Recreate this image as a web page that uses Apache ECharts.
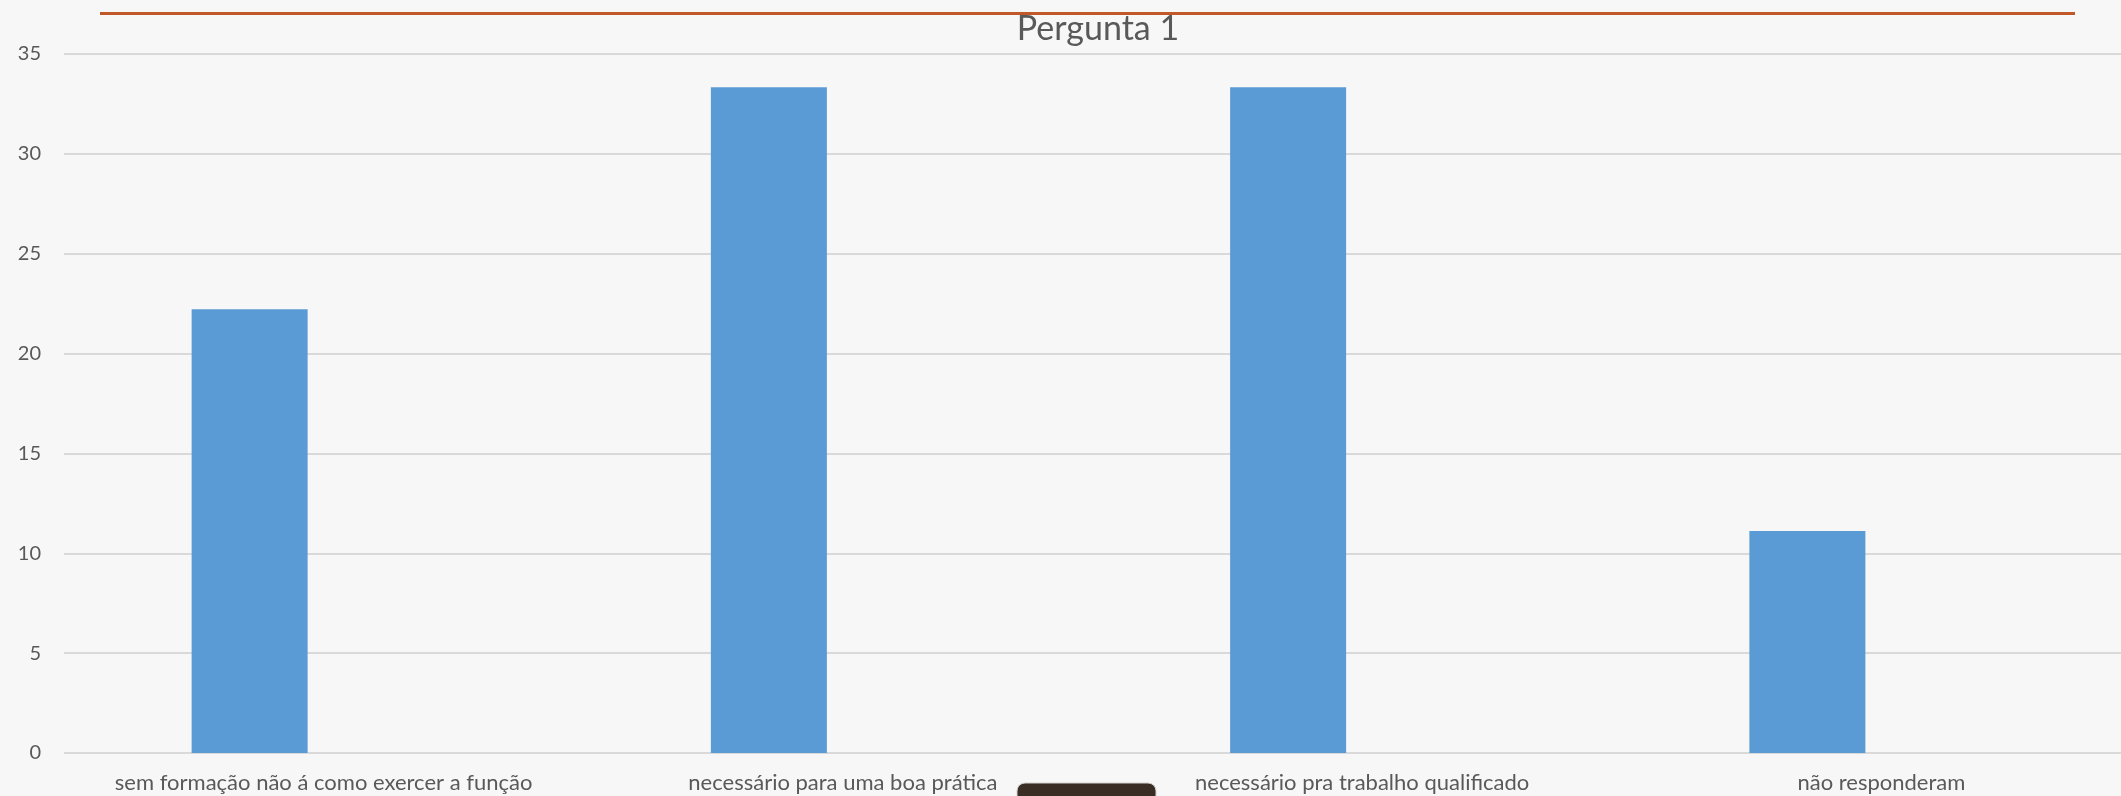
<!DOCTYPE html>
<html>
<head>
<meta charset="utf-8">
<script src="https://cdn.jsdelivr.net/npm/echarts@6/dist/echarts.min.js"></script>
<style>
html,body{margin:0;padding:0;background:#f7f7f7;}
#chart{width:2121px;height:796px;}
</style>
</head>
<body>
<div id="chart"></div>
<script>
const titleText = 'Pergunta 1';
const categories = [
  'sem formação não á como exercer a função',
  'necessário para uma boa prática',
  'necessário pra trabalho qualificado',
  'não responderam'
];
const values = [22.22, 33.33, 33.33, 11.11];
const yTicks = { min: 0, max: 35, interval: 5 };

const chart = echarts.init(document.getElementById('chart'), null, { renderer: 'canvas' });
const textColor = '#595959';
const font = 'Lato';

chart.setOption({
  backgroundColor: '#f7f7f7',
  animation: false,
  grid: [
    { left: 64, top: 54, width: 2077, bottom: 43, containLabel: false, outerBoundsMode: 'none' },
    { left: -10, top: 54, width: 2077, bottom: 43, containLabel: false, outerBoundsMode: 'none' }
  ],
  xAxis: [
    {
      type: 'category', gridIndex: 0, data: categories,
      axisLine: { show: false }, axisTick: { show: false },
      axisLabel: { color: textColor, fontFamily: font, fontSize: 22, margin: 19, interval: 0 }
    },
    {
      type: 'category', gridIndex: 1, data: categories, show: false
    }
  ],
  yAxis: [
    {
      type: 'value', gridIndex: 0, min: yTicks.min, max: yTicks.max, interval: yTicks.interval,
      axisLine: { show: false }, axisTick: { show: false },
      axisLabel: { color: textColor, fontFamily: font, fontSize: 20, margin: 23 },
      splitLine: { lineStyle: { color: '#d9d9d9', width: 2 } }
    },
    {
      type: 'value', gridIndex: 1, min: yTicks.min, max: yTicks.max, interval: yTicks.interval, show: false,
      splitLine: { show: false }
    }
  ],
  series: [
    {
      type: 'bar', xAxisIndex: 1, yAxisIndex: 1, data: values, barWidth: 116,
      itemStyle: { color: '#5b9bd5' }
    }
  ],
  graphic: [
    {
      type: 'line', shape: { x1: 100, y1: 13.5, x2: 2075, y2: 13.5 },
      style: { stroke: '#c0582a', lineWidth: 3 }
    },
    {
      type: 'text', x: 1098, y: 29,
      style: { text: titleText, fill: textColor, font: '34px Lato', textAlign: 'center', textVerticalAlign: 'middle' }
    },
    {
      type: 'rect', shape: { x: 1017, y: 783, width: 139, height: 20, r: 8 },
      style: { fill: '#3a2d23', stroke: '#d0d0d0', lineWidth: 1 }
    }
  ]
});
</script>
</body>
</html>
